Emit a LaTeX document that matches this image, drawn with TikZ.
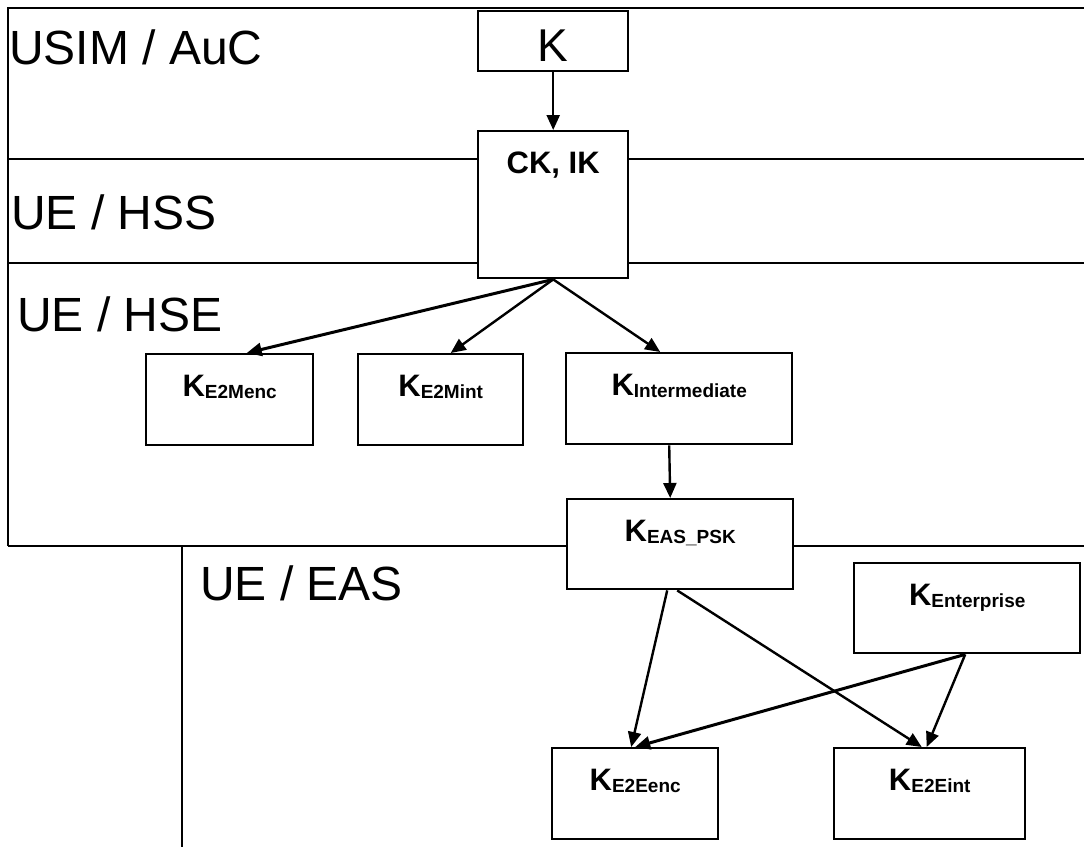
\documentclass[tikz,border=0pt]{standalone}
\usepackage{fontspec}
\setmainfont{Liberation Sans}
\usetikzlibrary{arrows.meta}
\tikzset{
  keybox/.style={draw, fill=white, line width=2.4pt, inner sep=0pt, anchor=north west,
    font=\fontsize{31}{31}\selectfont\bfseries, text height=42pt, text depth=49pt},
  region/.style={anchor=base west, inner sep=0pt, font=\fontsize{48}{48}\selectfont},
  derive/.style={line width=2.4pt, -{Triangle[length=15pt,width=13pt]}},
}
\newcommand\subkey[1]{K\raisebox{-2pt}{\fontsize{19}{19}\selectfont #1}}
\begin{document}
\begin{tikzpicture}[x=1pt,y=-1pt]
  \useasboundingbox (0,0) rectangle (1084,847);
  % layers
  \draw[line width=2.4pt] (8,546) -- (8,8) -- (1084,8);
  \foreach \y in {159,263,546} {
    \draw[line width=2.4pt] (8,\y) -- (1084,\y);
  }
  \draw[line width=2pt] (182,546) -- (182,847);
  \node[region] (usim) at (9,64) {USIM / AuC};
  \node[region] (hss) at (11,229) {UE / HSS};
  \node[region] (hse) at (17,331) {UE / HSE};
  \node[region] (eas) at (200,600) {UE / EAS};
  % keys
  \node[keybox, minimum width=150pt, text height=50pt, text depth=10pt,
    font=\fontsize{46}{46}\selectfont] (k) at (477,10) {K};
  \node[keybox, minimum width=150pt, text depth=105pt] (ckik) at (477,130) {CK, IK};
  \node[keybox, minimum width=167pt] (kmenc) at (145,353) {\subkey{E2Menc}};
  \node[keybox, minimum width=165pt] (kmint) at (357,353) {\subkey{E2Mint}};
  \node[keybox, minimum width=226pt] (kinter) at (565,352) {\subkey{Intermediate}};
  \node[keybox, minimum width=226pt, text depth=48pt] (keas) at (566,498) {\subkey{EAS\_PSK}};
  \node[keybox, minimum width=226pt, text depth=48pt] (kent) at (853,562) {\subkey{Enterprise}};
  \node[keybox, minimum width=166pt] (keenc) at (551,747) {\subkey{E2Eenc}};
  \node[keybox, minimum width=191pt] (keint) at (833,747) {\subkey{E2Eint}};
  % derivations
  \draw[derive] (k.south) -- (ckik.north);
  \draw[derive, line width=3pt] (ckik.south) -- ([xshift=17pt]kmenc.north);
  \draw[derive] (ckik.south) -- ([xshift=10pt]kmint.north);
  \draw[derive] (ckik.south) -- ([xshift=-19pt]kinter.north);
  \draw[derive] ([xshift=-10pt]kinter.south) -- ([xshift=-10pt]keas.north);
  \draw[derive] ([xshift=-13pt]keas.south) -- ([xshift=-4pt]keenc.north);
  \draw[derive] ([xshift=-3pt]keas.south) -- ([xshift=-8pt]keint.north);
  \draw[derive, line width=3pt] ([xshift=-2pt]kent.south) -- (keenc.north);
  \draw[derive] ([xshift=-2pt]kent.south) -- ([xshift=-3pt]keint.north);
\end{tikzpicture}
\end{document}
